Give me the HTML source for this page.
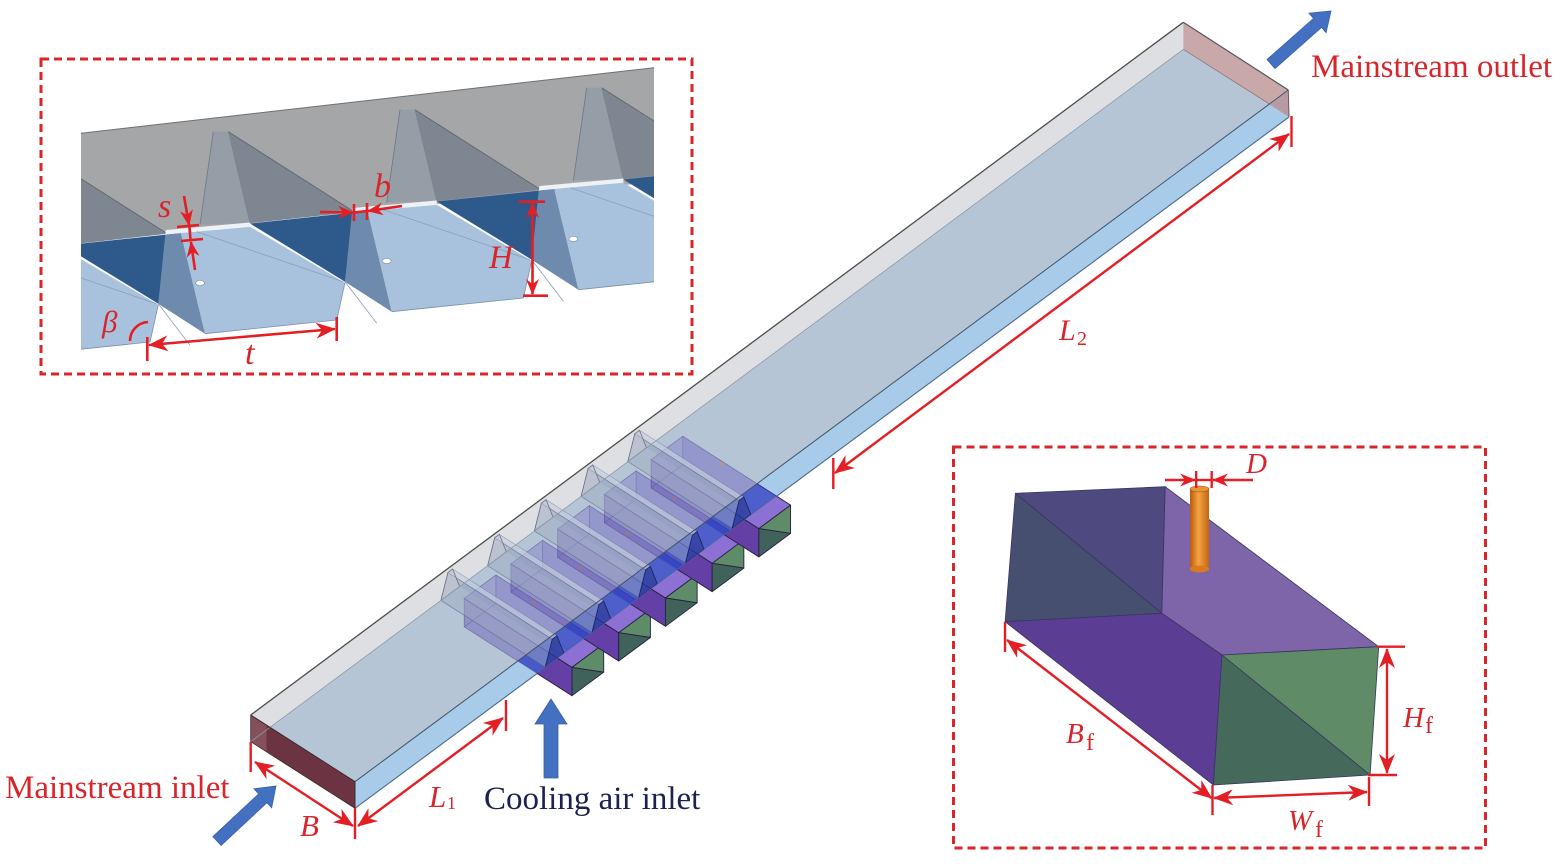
<!DOCTYPE html>
<html><head><meta charset="utf-8">
<style>html,body{margin:0;padding:0;background:#fff;}svg{display:block}svg text{font-family:"Liberation Serif","DejaVu Serif",serif;}</style></head>
<body>
<svg width="1568" height="864" viewBox="0 0 1568 864" xmlns="http://www.w3.org/2000/svg">
<defs>
  <marker id="ah" viewBox="0 0 20 16" refX="19" refY="8" markerWidth="20" markerHeight="16" markerUnits="userSpaceOnUse" orient="auto-start-reverse"><path d="M0,0 L20,8 L0,16 L6,8 z" fill="#e31e24"/></marker>
  <marker id="ahs" viewBox="0 0 16 13" refX="15" refY="6.5" markerWidth="16" markerHeight="13" markerUnits="userSpaceOnUse" orient="auto-start-reverse"><path d="M0,0 L16,6.5 L0,13 L5,6.5 z" fill="#e31e24"/></marker>
  <clipPath id="insetClip"><rect x="81" y="60" width="573" height="305"/></clipPath>
  <clipPath id="fw"><polygon points="355,781.7 1288.3,90 1289,117 355,808.3"/></clipPath>
  <mask id="outside" maskUnits="userSpaceOnUse" x="0" y="0" width="1568" height="864">
    <rect x="0" y="0" width="1568" height="864" fill="#fff"/>
    <polygon points="250.7,715 1183.3,22.3 1288.3,90 1289,117 355,808.3 250.7,741.7" fill="#000"/>
  </mask>
  <linearGradient id="cyl" x1="0" y1="0" x2="1" y2="0">
    <stop offset="0" stop-color="#b85a0c"/><stop offset="0.45" stop-color="#f5a445"/><stop offset="1" stop-color="#c4650e"/>
  </linearGradient>

  <g id="boxT">
    <polygon points="495.9,575 603.7,643.9 603.7,672.2 495.9,603.3" fill="#5a48b0" fill-opacity="0.14"/>
    <polygon points="464.2,598.5 572,667.4 572,695.7 464.2,626.8" fill="#5a48b0" fill-opacity="0.4" stroke="#4a4080" stroke-opacity="0.5" stroke-width="0.8"/>
    <polygon points="464.2,598.5 495.9,575 603.7,643.9 572,667.4" fill="#6656c0" fill-opacity="0.3" stroke="#4a4080" stroke-opacity="0.5" stroke-width="0.8"/>
    <polyline points="464.2,626.8 495.9,603.3 603.7,672.2" fill="none" stroke="#4a4080" stroke-opacity="0.35" stroke-width="0.8"/>
    <line x1="495.9" y1="575" x2="495.9" y2="603.3" stroke="#4a4080" stroke-opacity="0.35" stroke-width="0.8"/>
    <circle cx="534.3" cy="602.7" r="2" fill="#c89a5a" fill-opacity="0.7"/>
  </g>
  <g id="boxB">
    <polygon points="464.2,598.5 572,667.4 572,695.7 464.2,626.8" fill="#3444c0" fill-opacity="0.75"/>
    <polygon points="464.2,598.5 495.9,575 603.7,643.9 572,667.4" fill="#3a4ac6" fill-opacity="0.75" stroke="#202a80" stroke-width="0.8"/>
  </g>
  <g id="boxO" stroke="#262040" stroke-width="0.9" stroke-linejoin="round">
    <polygon points="464.2,598.5 572,667.4 572,695.7 464.2,626.8" fill="#643fa6"/>
    <polygon points="464.2,598.5 495.9,575 603.7,643.9 572,667.4" fill="#8d70d4"/>
    <polygon points="572,667.4 603.7,643.9 603.7,672.2" fill="#5e8c68"/>
    <polygon points="572,667.4 603.7,672.2 572,695.7" fill="#41625a"/>
  </g>
  <g id="rib">
    <polygon points="452.61,569.03 459.6,586.54 563.9,653.24 556.91,635.73" fill="#7080a8" fill-opacity="0.2"/>
    <polygon points="440.95,600.39 447.95,572.49 552.25,639.19 545.25,667.09" fill="#9ea9c2" fill-opacity="0.45" stroke="#56648a" stroke-opacity="0.6" stroke-width="0.8"/>
    <polygon points="447.95,572.49 452.61,569.03 556.91,635.73 552.25,639.19" fill="#d0d8e6" fill-opacity="0.6" stroke="#56648a" stroke-opacity="0.5" stroke-width="0.6"/>
    <polygon points="545.25,667.09 552.25,639.19 556.91,635.73 563.9,653.24" fill="#24308a" fill-opacity="0.55" stroke="#1a2060" stroke-width="0.8"/>
    <polygon points="440.95,600.39 447.95,572.49 452.61,569.03 459.6,586.54" fill="#b8c0cc" fill-opacity="0.55" stroke="#6a7488" stroke-width="0.8"/>
  </g>

  <g id="iu">
    <polygon points="213.3,131.7 228.3,131.7 250,223.3 200,224.5" fill="#959ea7"/>
    <polygon points="228.3,131.7 354,211.7 250,223.3" fill="#7d8691"/>
    <line x1="213.3" y1="131.7" x2="200" y2="224.5" stroke="#6f7780" stroke-width="0.8"/>
    <line x1="228.3" y1="131.7" x2="354" y2="211.7" stroke="#5f6770" stroke-width="0.9"/>
    <line x1="228.3" y1="131.7" x2="250" y2="223.3" stroke="#7a838c" stroke-width="0.6"/>
    <polygon points="250,223.5 354,212.5 345,281.7" fill="#2e5a8b"/>
    <polygon points="180.8,233 250,226.7 345,282.7 336.7,320 205,333.7" fill="#a8c1dd"/>
    <polygon points="165.3,234.5 180.8,233 205,333.7 158.3,303.7" fill="#6e8bae"/>
    <polygon points="166,230 250,222.5 250,226.7 180.8,233 165.3,234.5" fill="#eef2f6"/>
    <line x1="196.7" y1="231.7" x2="343.3" y2="281.7" stroke="#8aa0bc" stroke-width="0.8"/>
    <line x1="345" y1="281.7" x2="376.7" y2="323.3" stroke="#8aa0bc" stroke-width="0.8"/>
    <line x1="205" y1="333.7" x2="336.7" y2="320" stroke="#7b90aa" stroke-width="0.8"/>
    <line x1="336.7" y1="320" x2="345" y2="282.7" stroke="#7b90aa" stroke-width="0.8"/>
    <ellipse cx="200" cy="283" rx="4.5" ry="2.5" fill="#fff" stroke="#7a8a9a" stroke-width="0.6"/>
  </g>
</defs>

<!-- ===== Top-left inset ===== -->
<g clip-path="url(#insetClip)">
  <polygon points="81,133.3 654,67.7 654,182 81,240" fill="#a4a6a8"/>
  <use href="#iu" transform="translate(-186.7,22)"/>
  <use href="#iu"/>
  <use href="#iu" transform="translate(186.7,-22)"/>
  <use href="#iu" transform="translate(373.4,-44)"/>
  <line x1="81" y1="133.3" x2="654" y2="67.7" stroke="#6e7072" stroke-width="1"/>
</g>
<rect x="41" y="59" width="651" height="315" fill="none" stroke="#d9262b" stroke-width="3" stroke-dasharray="8 5"/>

<!-- inset annotations -->
<g stroke="#e31e24" stroke-width="2.6" fill="none">
  <line x1="184" y1="196" x2="189" y2="225" marker-end="url(#ahs)"/>
  <line x1="177" y1="227" x2="199" y2="225"/>
  <line x1="181" y1="241" x2="203" y2="239"/>
  <line x1="189.5" y1="227" x2="190.5" y2="240"/>
  <line x1="195" y1="270" x2="191" y2="242" marker-end="url(#ahs)"/>

  <line x1="320" y1="212" x2="353" y2="212.5" marker-end="url(#ahs)"/>
  <line x1="402" y1="206" x2="368" y2="211" marker-end="url(#ahs)"/>
  <line x1="354" y1="204" x2="354" y2="221"/>
  <line x1="367" y1="203" x2="367" y2="220"/>
  <line x1="354" y1="212.5" x2="367" y2="211"/>

  <line x1="532.5" y1="203" x2="532.5" y2="294" marker-start="url(#ahs)" marker-end="url(#ahs)"/>
  <line x1="519" y1="201.7" x2="545" y2="201.7"/>
  <line x1="523" y1="295.7" x2="548" y2="295.7"/>

  <line x1="149" y1="345" x2="335" y2="329" marker-start="url(#ah)" marker-end="url(#ah)"/>
  <line x1="147.3" y1="337" x2="147.3" y2="361"/>
  <line x1="336.7" y1="317" x2="336.7" y2="341"/>

  <path d="M130,341 A19,19 0 0 1 148,322"/>
</g>
<g fill="#d7262b" font-style="italic">
  <text x="158" y="217" font-size="34">s</text>
  <text x="374" y="197" font-size="34">b</text>
  <text x="489" y="268" font-size="33">H</text>
  <text x="245" y="364" font-size="34">t</text>
  <text x="102" y="332" font-size="31">β</text>
</g>

<!-- ===== Main channel ===== -->
<polygon points="250.7,715 1183.3,22.3 1183.3,49.3 250.7,741.7" fill="#dedfe2"/>
<polygon points="250.7,741.7 1183.3,49.3 1289,117 355,808.3" fill="#b5c5d6"/>
<polygon points="355,781.7 1288.3,90 1289,117 355,808.3" fill="#a8cbea"/>
<polygon points="1183.3,22.3 1288.3,90 1289,117 1183.3,49.3" fill="#c9a8a9"/>
<polygon points="1270,104.4 1288.3,90 1289,117" fill="#b89aa5"/>
<polygon points="250.7,715 355,781.7 355,808.3 250.7,741.7" fill="#6c3442"/>
<polygon points="250.7,715 266.5,725 266.5,751.8 250.7,741.7" fill="#84505a"/>

<!-- boxes translucent -->
<use href="#boxT"/>
<use href="#boxT" transform="translate(46.72,-34.7)"/>
<use href="#boxT" transform="translate(93.44,-69.4)"/>
<use href="#boxT" transform="translate(140.16,-104.1)"/>
<use href="#boxT" transform="translate(186.88,-138.8)"/>
<g clip-path="url(#fw)">
  <use href="#boxB"/>
  <use href="#boxB" transform="translate(46.72,-34.7)"/>
  <use href="#boxB" transform="translate(93.44,-69.4)"/>
  <use href="#boxB" transform="translate(140.16,-104.1)"/>
  <use href="#boxB" transform="translate(186.88,-138.8)"/>
</g>
<use href="#rib"/>
<use href="#rib" transform="translate(46.72,-34.7)"/>
<use href="#rib" transform="translate(93.44,-69.4)"/>
<use href="#rib" transform="translate(140.16,-104.1)"/>
<use href="#rib" transform="translate(186.88,-138.8)"/>

<!-- channel edges -->
<g fill="none">
  <line x1="250.7" y1="741.7" x2="1183.3" y2="49.3" stroke="#8e9aa6" stroke-width="0.8"/>
  <line x1="1183.3" y1="49.3" x2="1270" y2="104.4" stroke="#8a7a80" stroke-width="0.8"/>
  <line x1="250.7" y1="715" x2="1183.3" y2="22.3" stroke="#4d4d4d" stroke-width="1.3"/>
  <line x1="1183.3" y1="22.3" x2="1288.3" y2="90" stroke="#555" stroke-width="1.2"/>
  <line x1="1288.3" y1="90" x2="1289" y2="117" stroke="#6a5a5a" stroke-width="1"/>
  <line x1="355" y1="781.7" x2="1288.3" y2="90" stroke="#3f5468" stroke-width="1"/>
  <line x1="355" y1="808.3" x2="1289" y2="117" stroke="#4a6a8c" stroke-width="1.1"/>
  <line x1="250.7" y1="715" x2="355" y2="781.7" stroke="#3a2a2a" stroke-width="1"/>
  <line x1="355" y1="781.7" x2="355" y2="808.3" stroke="#333" stroke-width="1"/>
  <line x1="250.7" y1="715" x2="250.7" y2="741.7" stroke="#444" stroke-width="1"/>
  <line x1="250.7" y1="741.7" x2="355" y2="808.3" stroke="#3a2a2a" stroke-width="0.8"/>
</g>

<!-- boxes outside channel (opaque) -->
<g mask="url(#outside)">
  <use href="#boxO"/>
  <use href="#boxO" transform="translate(46.72,-34.7)"/>
  <use href="#boxO" transform="translate(93.44,-69.4)"/>
  <use href="#boxO" transform="translate(140.16,-104.1)"/>
  <use href="#boxO" transform="translate(186.88,-138.8)"/>
</g>

<!-- main dimensions -->
<g stroke="#e31e24" stroke-width="2.4" fill="none">
  <line x1="835" y1="473" x2="1289" y2="134" marker-start="url(#ah)" marker-end="url(#ah)"/>
  <line x1="833.3" y1="458" x2="833.3" y2="489"/>
  <line x1="1291.5" y1="116" x2="1291.5" y2="147"/>
  <line x1="358" y1="826" x2="503" y2="718" marker-start="url(#ah)" marker-end="url(#ah)"/>
  <line x1="506" y1="700" x2="506" y2="731"/>
  <line x1="355" y1="808" x2="355" y2="839"/>
  <line x1="255" y1="762" x2="353" y2="826" marker-start="url(#ah)" marker-end="url(#ah)"/>
  <line x1="250.7" y1="742" x2="250.7" y2="772"/>
</g>
<g fill="#d7262b">
  <text x="1059" y="340" font-size="30" font-style="italic">L</text>
  <text x="1077" y="345" font-size="20">2</text>
  <text x="429" y="807" font-size="31" font-style="italic">L</text>
  <text x="447" y="809" font-size="18">1</text>
  <text x="300" y="836" font-size="31" font-style="italic">B</text>
  <text x="1311" y="77" font-size="33">Mainstream outlet</text>
  <text x="5" y="798" font-size="33">Mainstream inlet</text>
</g>
<text x="484" y="809" font-size="33" fill="#1d2150">Cooling air inlet</text>

<!-- blue flow arrows -->
<g fill="#4470c2" stroke="#3a60a8" stroke-width="0.8">
  <polygon points="1267,59.5 1313.5,18.4 1308.9,13.2 1331,11 1326.1,32.7 1321.5,27.4 1275,68.5"/>
  <polygon points="212.9,836.6 258.7,793.9 253.9,788.8 276,786 271.7,807.8 266.9,802.7 221.1,845.4"/>
  <polygon points="544,778 544,724 535,724 551,699 567,724 558,724 558,778"/>
</g>

<!-- ===== Right inset (plenum) ===== -->
<g stroke="#3a3560" stroke-width="0.8" stroke-linejoin="round">
  <polygon points="1015.4,493.3 1165.2,486.7 1161.8,613.3" fill="#4e4a7f"/>
  <polygon points="1015.4,493.3 1161.8,613.3 1005.1,621.7" fill="#464f70"/>
  <polygon points="1165.2,486.7 1378.7,646.7 1222,655 1161.8,613.3" fill="#7e64a8"/>
  <polygon points="1005.1,621.7 1161.8,613.3 1222,655 1213.4,785" fill="#5b3d93"/>
  <polygon points="1222,655 1378.7,646.7 1370.1,775" fill="#5f8b66"/>
  <polygon points="1222,655 1370.1,775 1213.4,785" fill="#45695a"/>
</g>
<rect x="1190" y="489" width="19" height="80" fill="url(#cyl)"/>
<ellipse cx="1199.5" cy="569" rx="9.5" ry="3.5" fill="#d87a20"/>
<ellipse cx="1199.5" cy="489" rx="9.5" ry="3" fill="#e8953a" stroke="#a05010" stroke-width="0.6"/>

<g stroke="#e31e24" stroke-width="2.4" fill="none">
  <line x1="1165" y1="480" x2="1195" y2="480" marker-end="url(#ahs)"/>
  <line x1="1253" y1="480" x2="1213" y2="480" marker-end="url(#ahs)"/>
  <line x1="1196" y1="480" x2="1212" y2="480"/>
  <line x1="1196.2" y1="471" x2="1196.2" y2="488"/>
  <line x1="1211.7" y1="471" x2="1211.7" y2="488"/>

  <line x1="1007" y1="640" x2="1211.5" y2="798" marker-start="url(#ah)" marker-end="url(#ah)"/>
  <line x1="1005" y1="622" x2="1005" y2="652"/>
  <line x1="1212.5" y1="785" x2="1212.5" y2="815"/>

  <line x1="1214" y1="798" x2="1367" y2="792" marker-start="url(#ah)" marker-end="url(#ah)"/>
  <line x1="1369" y1="777" x2="1369" y2="806"/>

  <line x1="1387" y1="649" x2="1387" y2="773" marker-start="url(#ah)" marker-end="url(#ah)"/>
  <line x1="1377" y1="646.7" x2="1405" y2="646.7"/>
  <line x1="1368" y1="775" x2="1397" y2="775"/>
</g>
<g fill="#d7262b">
  <text x="1246" y="473" font-size="29" font-style="italic">D</text>
  <text x="1066" y="743" font-size="29" font-style="italic">B</text>
  <text x="1086" y="750" font-size="24">f</text>
  <text x="1403" y="727" font-size="29" font-style="italic">H</text>
  <text x="1425" y="733" font-size="24">f</text>
  <text x="1288" y="830" font-size="29" font-style="italic">W</text>
  <text x="1315" y="837" font-size="24">f</text>
</g>
<rect x="953.5" y="447" width="532" height="401" fill="none" stroke="#d9262b" stroke-width="3" stroke-dasharray="8 5"/>
</svg>
</body></html>
